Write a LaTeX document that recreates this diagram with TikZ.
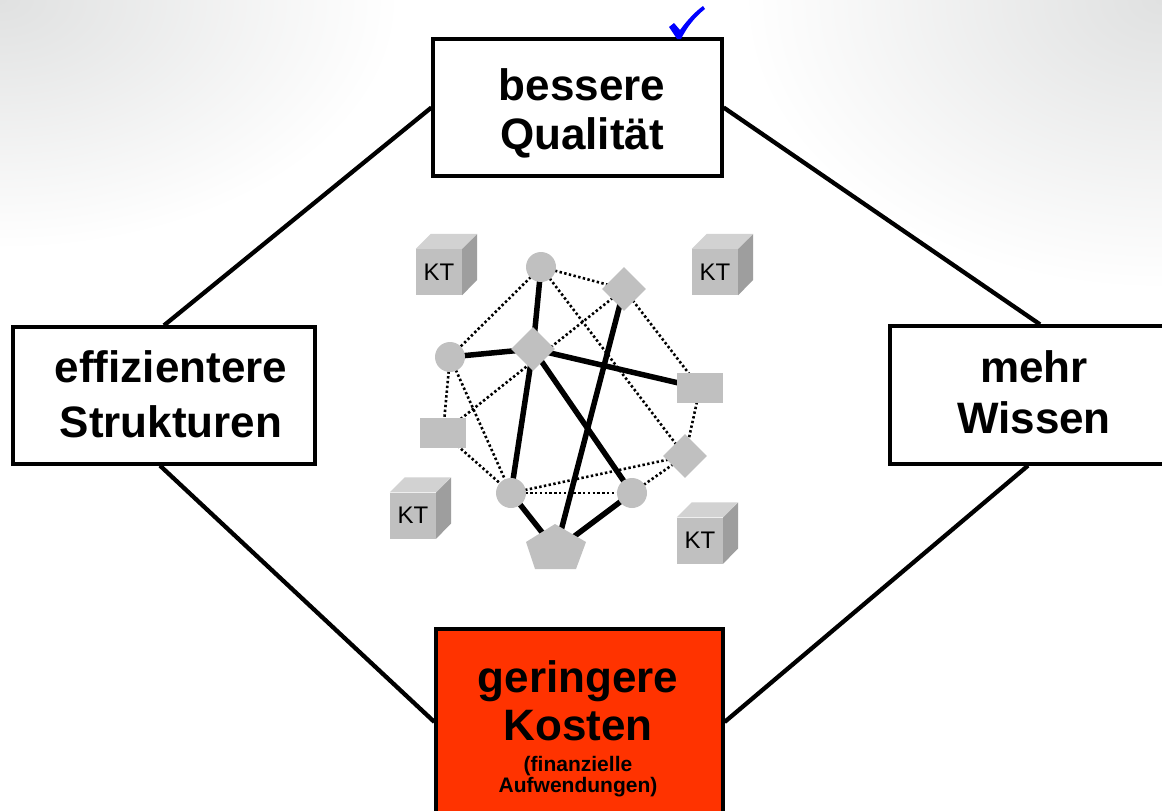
\documentclass[tikz,border=0pt]{standalone}
\usepackage{fontspec}
\setmainfont{Liberation Sans}
\usetikzlibrary{shapes.geometric,calc}
\pgfdeclarelayer{back}
\pgfdeclarelayer{bg}
\pgfsetlayers{back,bg,main}
\definecolor{cornergray}{RGB}{224,225,225}
\definecolor{shapegray}{RGB}{192,192,192}
\definecolor{topgray}{RGB}{210,210,210}
\definecolor{sidegray}{RGB}{158,158,158}
\definecolor{costred}{RGB}{255,51,0}
\definecolor{checkblue}{RGB}{0,0,255}
\begin{document}
\begin{tikzpicture}[x=1pt,y=-1pt,
  box/.style={draw=black,line width=3.2pt,fill=white,inner sep=0pt},
  big/.style={font=\fontsize{44}{48}\selectfont\bfseries,anchor=base,inner sep=0pt},
  small/.style={font=\fontsize{21}{22}\selectfont\bfseries,anchor=base,inner sep=0pt},
  link/.style={line width=4.3pt},
  strong/.style={line width=5.5pt},
  weak/.style={line width=2.6pt,dash pattern=on 2.4pt off 2.4pt},
  dot/.style={circle,fill=shapegray,minimum size=30pt,inner sep=0pt},
  dia/.style={diamond,fill=shapegray,minimum size=44pt,inner sep=0pt},
  blk/.style={rectangle,fill=shapegray,minimum width=46pt,minimum height=30pt,inner sep=0pt},
  ktfront/.style={rectangle,fill=shapegray,minimum size=46pt,inner sep=0pt,font=\fontsize{24}{24}\selectfont},
]
\useasboundingbox (0,0) rectangle (1162,811);
\begin{pgfonlayer}{back}
  \fill[white] (0,0) rectangle (1162,811);
  \begin{scope}
    \clip (0,0) rectangle (1162,811);
    \shade[inner color=cornergray,outer color=white] (0,0) ellipse (400 and 250);
    \shade[inner color=cornergray,outer color=white] (1162,0) ellipse (420 and 290);
  \end{scope}
\end{pgfonlayer}

% main boxes
\node[box,minimum width=289pt,minimum height=137pt] (qual) at (577.5,107.5) {};
\node[box,minimum width=302pt,minimum height=137pt] (eff) at (164,395.5) {};
\node[box,minimum width=300pt,minimum height=138pt] (wis) at (1040,395) {};
\node[box,fill=costred,minimum width=287pt,minimum height=186pt] (kost) at (579.5,722) {};

\node[big] (q1) at (582,100) {bessere};
\node[big] (q2) at (582,149) {Qualität};
\node[big] (e1) at (171,382) {effizientere};
\node[big] (e2) at (171,437) {Strukturen};
\node[big] (w1) at (1034,382) {mehr};
\node[big] (w2) at (1034,433) {Wissen};
\node[big] (k1) at (578,692) {geringere};
\node[big] (k2) at (578,740) {Kosten};
\node[small] (k3) at (578,771) {(finanzielle};
\node[small] (k4) at (578,792) {Aufwendungen)};

% check mark
\fill[checkblue] (669,27) -- (674,23) -- (680,30)
  .. controls (688,19) and (696,11) .. (703,6) -- (705,9)
  .. controls (695,17) and (687,27) .. (681,39) -- (677,39) -- cycle;

\begin{pgfonlayer}{bg}
  \draw[link] (qual.west) -- (eff.north);
  \draw[link] (qual.east) -- (wis.north);
  \draw[link] ([xshift=-4pt]eff.south) -- (kost.west);
  \draw[link] ([xshift=-12pt]wis.south) -- (kost.east);
\end{pgfonlayer}

% network nodes
\node[dot] (c1) at (541,267) {};
\node[dia] (d1) at (624,289) {};
\node[dot] (c2) at (450,357) {};
\node[dia] (d2) at (533,349) {};
\node[blk] (r1) at (700,388) {};
\node[blk] (r2) at (443,433) {};
\node[dia] (d3) at (685,456) {};
\node[dot] (c3) at (511,493) {};
\node[dot] (c4) at (632,493) {};
\fill[shapegray] (555,524) -- (586,542) -- (576,569) -- (535,569) -- (526,542) -- cycle;
\coordinate (pent) at (556,550);

\begin{pgfonlayer}{bg}
  \draw[weak] (c1.center) -- (d1.center);
  \draw[weak] (c1.center) -- (c2.center);
  \draw[weak] (c1.center) -- (d3.center);
  \draw[weak] (d1.center) -- (r1.center);
  \draw[weak] (d1.center) -- (r2.center);
  \draw[weak] (c2.center) -- (r2.center);
  \draw[weak] (c2.center) -- (c3.center);
  \draw[weak] (r2.center) -- (c3.center);
  \draw[weak] (c3.center) -- (c4.center);
  \draw[weak] (c3.center) -- (d3.center);
  \draw[weak] (c4.center) -- (d3.center);
  \draw[weak] (r1.center) -- (d3.center);
  \draw[strong] (c1.center) -- (d2.center);
  \draw[strong] (c2.center) -- (d2.center);
  \draw[strong] (d2.center) -- (r1.center);
  \draw[strong] (d2.center) -- (c3.center);
  \draw[strong] (d2.center) -- (c4.center);
  \draw[strong] (d1.center) -- (pent);
  \draw[strong] (c3.center) -- (pent);
  \draw[strong] (c4.center) -- (pent);
\end{pgfonlayer}

% KT cubes
\foreach \n/\px/\py in {kt1/439/272, kt2/715/272, kt3/413/515.5, kt4/700/540.5}{
  \node[ktfront] (\n) at (\px,\py) {KT};
  \fill[topgray] (\n.north west) -- ++(15,-15) -- ++(46,0) -- (\n.north east) -- cycle;
  \fill[sidegray] (\n.north east) -- ++(15,-15) -- ++(0,46) -- (\n.south east) -- cycle;
}
\end{tikzpicture}
\end{document}
